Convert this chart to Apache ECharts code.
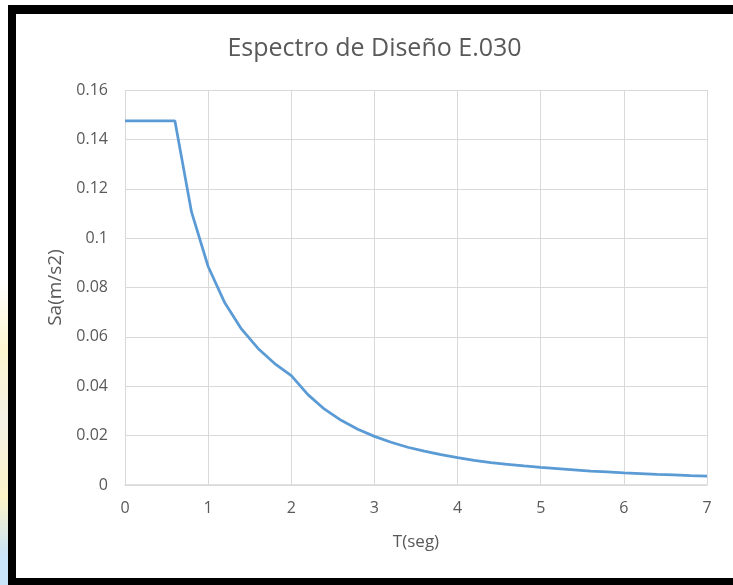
<!DOCTYPE html>
<html>
<head>
<meta charset="utf-8">
<script src="https://cdn.jsdelivr.net/npm/echarts@6/dist/echarts.min.js"></script>
<style>
  html, body { margin: 0; padding: 0; background: #ffffff; }
  #wrap { position: relative; width: 733px; height: 585px; overflow: hidden; background: #ffffff; }
  #strip { position: absolute; left: 0; top: 0; width: 8px; height: 585px;
    background: linear-gradient(to bottom, #ffffff 0%, #ffffff 48%, #fdf6d0 60%, #f4f1e6 72%, #fdf4c8 85%, #c9e3f8 95%, #c9e3f8 100%); }
  #frame { position: absolute; left: 8px; top: 5px; width: 725px; height: 580px; background: #000000; }
  #inner { position: absolute; left: 16px; top: 14px; width: 717px; height: 564px; background: #ffffff; }
  #chart { position: absolute; left: 16px; top: 14px; width: 717px; height: 564px; }
</style>
</head>
<body>
<div id="wrap">
  <div id="strip"></div>
  <div id="frame"></div>
  <div id="inner"></div>
  <div id="chart"></div>
</div>
<script>
const titleText = 'Espectro de Diseño E.030';
const xName = 'T(seg)';
const yName = 'Sa(m/s2)';
const periods = [0, 0.2, 0.4, 0.6, 0.8, 1.0, 1.2, 1.4, 1.6, 1.8, 2.0, 2.2, 2.4, 2.6, 2.8, 3.0, 3.2, 3.4, 3.6, 3.8, 4.0, 4.2, 4.4, 4.6, 4.8, 5.0, 5.2, 5.4, 5.6, 5.8, 6.0, 6.2, 6.4, 6.6, 6.8, 7.0];
const sa = [0.1475, 0.1475, 0.1475, 0.1475, 0.1106, 0.0885, 0.0738, 0.0632, 0.0553, 0.0492, 0.0443, 0.0366, 0.0307, 0.0262, 0.0226, 0.0197, 0.0173, 0.0153, 0.0137, 0.0123, 0.0111, 0.0100, 0.0091, 0.0084, 0.0077, 0.0071, 0.0066, 0.0061, 0.0056, 0.0053, 0.0049, 0.0046, 0.0043, 0.0041, 0.0038, 0.0036];

const seriesData = periods.map((t, i) => [t, sa[i]]);
const chart = echarts.init(document.getElementById('chart'), null, { renderer: 'canvas' });
const fontFam = '"Open Sans", "Liberation Sans", sans-serif';
chart.setOption({
  animation: false,
  backgroundColor: 'transparent',
  title: {
    text: titleText,
    left: 'center',
    top: 17,
    textStyle: { fontFamily: fontFam, fontSize: 25, fontWeight: 'normal', color: '#595959' }
  },
  grid: { left: 109, right: 26, top: 76, bottom: 93 },
  xAxis: {
    type: 'value', min: 0, max: 7, interval: 1,
    name: xName, nameLocation: 'middle', nameGap: 49,
    nameTextStyle: { fontFamily: fontFam, fontSize: 17, color: '#595959' },
    axisLine: { show: true, lineStyle: { color: '#d9d9d9', width: 1.5 } },
    axisTick: { show: false },
    axisLabel: { margin: 15, fontFamily: fontFam, fontSize: 16, color: '#595959' },
    splitLine: { show: true, lineStyle: { color: '#d9d9d9', width: 1 } }
  },
  yAxis: {
    type: 'value', min: 0, max: 0.16, interval: 0.02,
    name: yName, nameLocation: 'middle', nameGap: 57, nameRotate: 90,
    nameTextStyle: { fontFamily: fontFam, fontSize: 19, color: '#595959' },
    axisLine: { show: false },
    axisTick: { show: false },
    axisLabel: { margin: 17, fontFamily: fontFam, fontSize: 16, color: '#595959' },
    splitLine: { show: true, lineStyle: { color: '#d9d9d9', width: 1 } }
  },
  series: [{
    type: 'line',
    data: seriesData,
    showSymbol: false,
    symbol: 'none',
    lineStyle: { color: '#5b9bd5', width: 2.75 },
    z: 3
  }]
});
</script>
</body>
</html>
